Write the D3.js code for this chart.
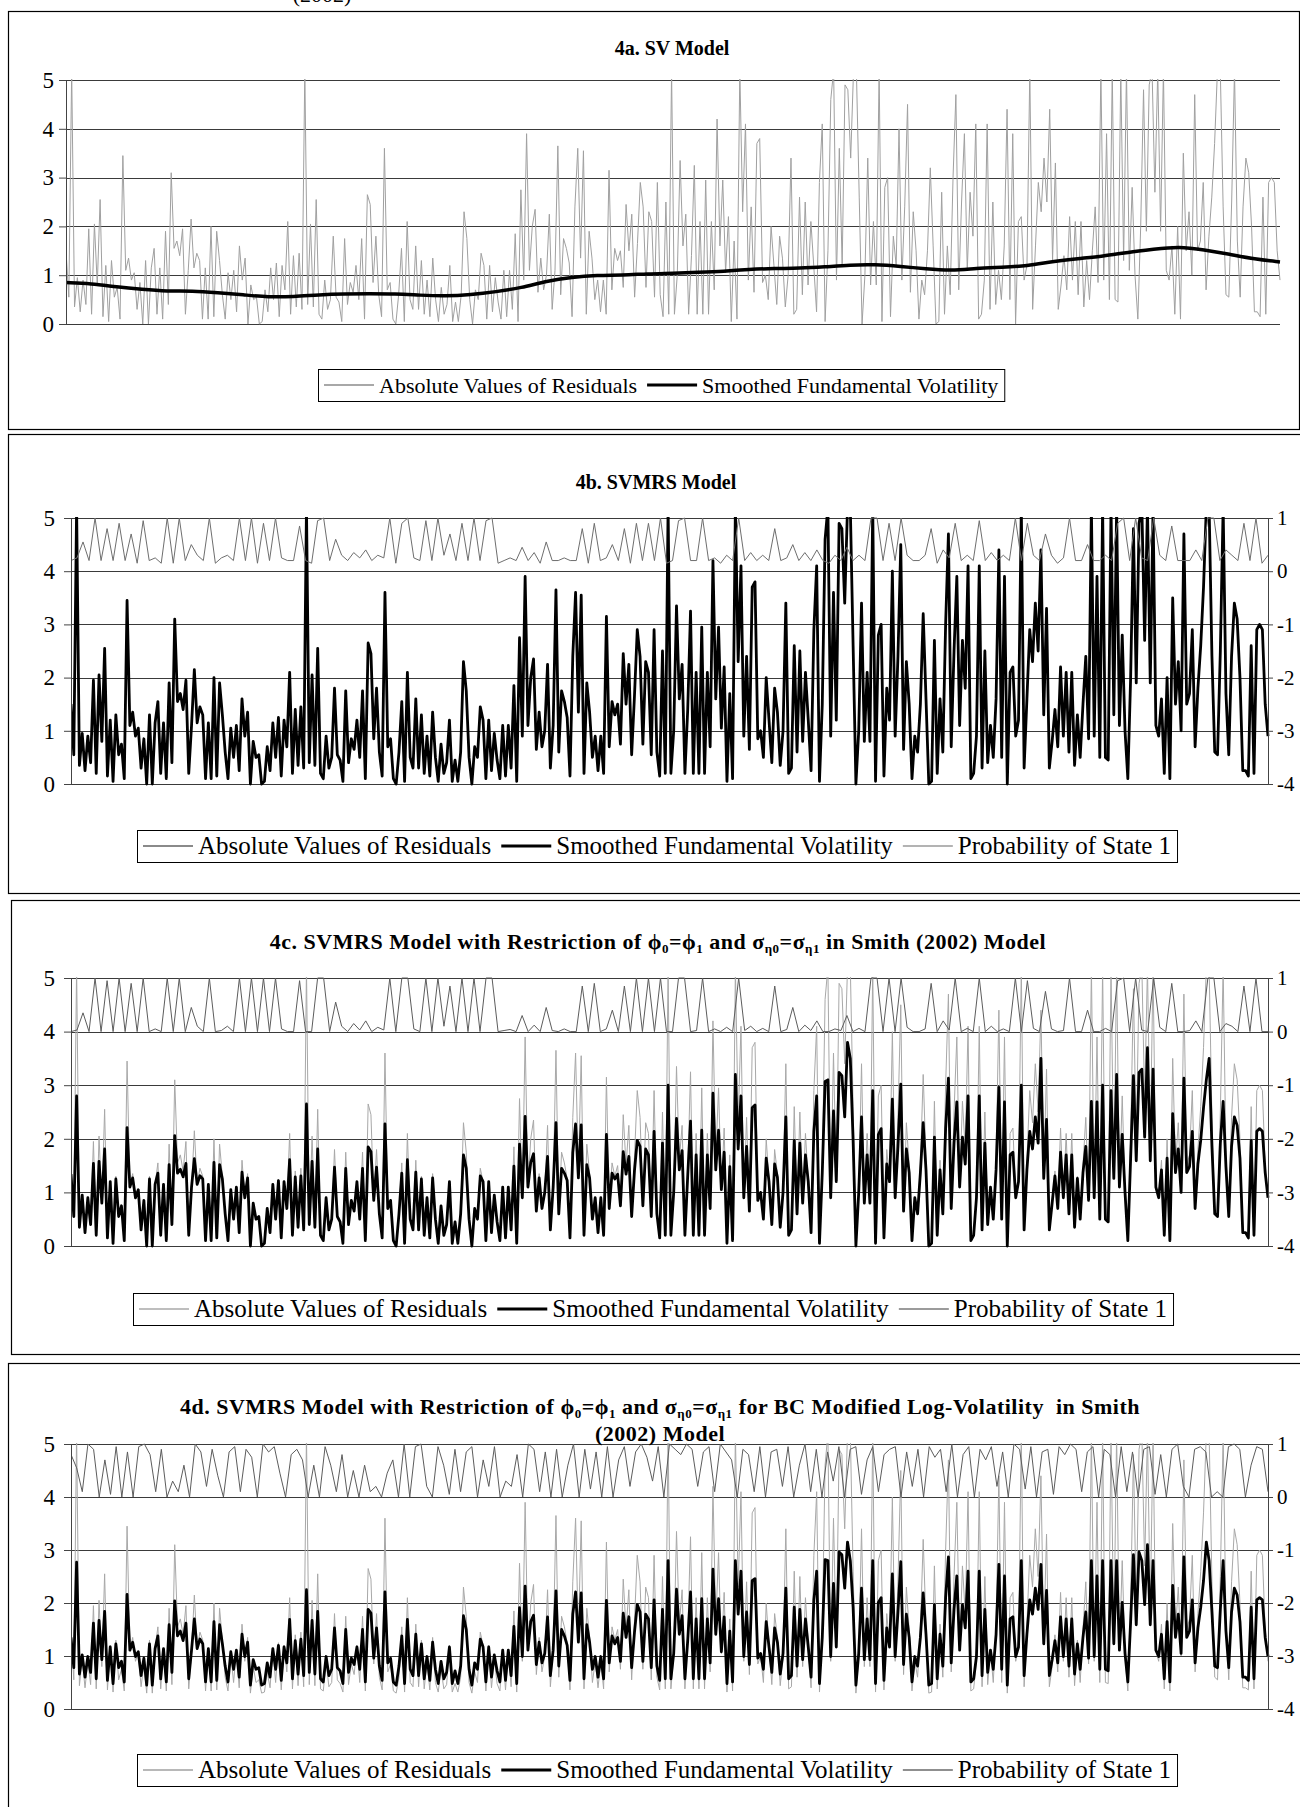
<!DOCTYPE html>
<html>
<head>
<meta charset="utf-8">
<script src="https://cdn.jsdelivr.net/npm/d3@7"></script>
<style>
  body { margin: 0; background: #fff; }
  svg, text { font-family: "Liberation Serif", "Times New Roman", serif; fill: #000; }
</style>
</head>
<body>
<script>
var width = 1300,
    height = 1807,
    serif = "'Liberation Serif', 'Times New Roman', serif";

var residuals = [
  1.5, 0.55, 5.2, 0.35, 0.95, 0.25, 0.9, 0.4, 1.95,
  0.2, 2.05, 0.8, 2.55, 0.15, 1.2, 0.05, 1.3,
  0.55, 0.75, 0.1, 3.45, 1.1, 1.35, 0.9, 1.05, 0.3, 0.85,
  0, 1.3, 0, 1.15, 1.55, 0.2, 1.15, 0.1,
  1.9, 0.4, 3.1, 1.55, 1.7, 1.4, 1.95, 0.2, 1.1,
  2.15, 1.15, 1.45, 1.3, 0.1, 1.15, 0.1, 2.0,
  0.15, 1.9, 1.3, 0.6, 0.1, 1.05, 0.5, 1.1, 0.25,
  1.6, 0.9, 1.35, 0, 0.8, 0.5, 0.55, 0,
  0.05, 0.7, 0.25, 1.15, 0.5, 1.25, 0.15, 1.2,
  0.7, 2.1, 0.2, 1.4, 0.35, 1.45, 0.3,
  5.2, 0.4, 2.05, 0.35, 2.55, 0.2, 0.1, 0.9, 0.3,
  0.5, 1.8, 0.55, 0.45, 0.05, 1.75, 0.4, 0.85,
  0.65, 1.2, 0.5, 1.75, 0.1, 2.65, 2.45, 0.85, 1.8,
  0.6, 0.15, 3.6, 0.7, 0.85, 0.1, 0,
  0.6, 1.55, 0.05, 2.1, 0.5, 0.3, 1.6, 0.3, 1.3, 0.2, 0.9,
  0.15, 1.35, 0.5, 0.05, 0.75, 0.2, 0.4,
  1.2, 0.05, 0.45, 0.05, 0.6, 2.3, 1.75,
  0.5, 0, 0.7, 0.5, 1.45, 1.2, 0.1, 1.2, 0.25, 0.95,
  0.45, 0.1, 1.1, 0.15, 1.1, 0.3, 1.85, 0.05, 2.75,
  0.9, 3.9, 1.1, 2.0, 2.35, 0.65, 1.35, 0.7,
  1.0, 2.25, 0.3, 1.1, 3.65, 0.6, 1.75,
  1.55, 1.25, 0.15, 2.4, 3.6, 1.35, 3.55,
  0.2, 1.9, 1.35, 0.5, 0.9, 0.25, 0.9, 0.2,
  3.15, 0.7, 1.55, 1.3, 1.5, 0.75, 2.45, 1.5, 2.25,
  0.55, 1.65, 2.9,
  2.4, 0.75, 2.3, 2.1, 0.55, 2.9, 0.6, 0.15, 2.5, 0.2,
  5.2, 0.2, 1.0, 3.35, 1.6, 2.25, 0.2, 1.4, 3.25, 0.2,
  2.1, 0.2, 2.95, 0.2, 2.1, 0.7, 4.2, 1.6, 2.95, 1.05,
  2.2, 0.05, 1.7, 0.1, 5.2, 2.3, 4.1, 0.9, 2.4, 0.65,
  3.7, 3.8, 0.85, 1.0, 0.5, 2.0, 1.2, 0.4, 1.8, 1.35,
  0.35, 1.0, 3.4, 0.2, 0.3, 2.6, 0.6, 2.5, 0.8, 2.1,
  1.2, 0.25, 2.9, 4.1, 0.05, 1.5, 4.6, 5.2, 0.9, 3.6,
  1.2, 4.9, 4.8, 3.4, 5.2, 5.2, 2.6, 0, 1.0, 3.4,
  0.8, 2.1, 0.8, 5.2, 0.05, 2.8, 3.0, 0.15, 1.8, 1.2,
  4.0, 0.9, 2.4, 4.5, 0.65, 2.3, 1.5, 0.1, 0.9, 0.6,
  1.5, 3.2, 1.6, 0, 0.05, 2.7, 0.2, 1.6, 0.6, 3.0,
  4.7, 0.7, 2.5, 3.9, 1.1, 2.7, 1.8, 4.1, 0.1, 0.2,
  0.9, 4.1, 0.3, 2.5, 0.4, 1.1, 0.5, 1.6, 4.4, 0.5,
  3.9, 0, 2.1, 2.2, 0.9, 1.2, 5.2, 0.3, 1.6, 2.9,
  2.3, 3.4, 2.5, 4.4, 1.3, 3.3, 0.3, 0.8, 1.4, 0.7,
  2.2, 0.9, 2.1, 0.6, 2.1, 0.35, 1.3, 0.5, 1.5, 2.4,
  0.85, 5.2, 0.9, 3.9, 0.5, 5.2, 0.5, 0.45, 5.2, 1.3,
  5.2, 1.1, 2.8, 1.0, 0.1, 2.0, 4.8, 1.9, 4.9, 5.2,
  2.7, 5.2, 1.9, 5.2, 1.1, 0.9, 1.6, 0.2, 2.0, 0.1,
  3.5, 1.5, 2.3, 1.0, 4.7, 1.5, 1.7, 2.9, 0.7, 1.8,
  2.6, 3.7, 5.2, 5.2, 2.4, 0.6, 0.55, 2.5, 5.2, 1.7,
  0.55, 2.4, 3.4, 3.1, 2.0, 0.25, 0.25, 0.15, 2.6, 0.2,
  2.9, 3.0, 2.9, 1.5, 0.9
];

// 4a smoothed fundamental volatility (slow curve, read every ~25px)
var svSmoothed = [
  0.85, 0.83, 0.76, 0.71, 0.67, 0.68, 0.64, 0.6, 0.55, 0.56,
  0.6, 0.62, 0.62, 0.62, 0.59, 0.57, 0.6, 0.66, 0.74, 0.88,
  0.96, 1.0, 1.0, 1.03, 1.04, 1.06, 1.08, 1.12, 1.14, 1.14,
  1.17, 1.21, 1.22, 1.18, 1.13, 1.09, 1.14, 1.16, 1.19, 1.28,
  1.34, 1.39, 1.47, 1.53, 1.59, 1.52, 1.43, 1.33, 1.27
];

// 4b smoothed volatility: lies on top of the residuals
var svmrsSmoothed = [
  1.5, 0.55, 5.2, 0.35, 0.95, 0.25, 0.9, 0.4, 1.95,
  0.2, 2.05, 0.8, 2.55, 0.15, 1.2, 0.05, 1.3,
  0.55, 0.75, 0.1, 3.45, 1.1, 1.35, 0.9, 1.05, 0.3, 0.85,
  0, 1.3, 0, 1.15, 1.55, 0.2, 1.15, 0.1,
  1.9, 0.4, 3.1, 1.55, 1.7, 1.4, 1.95, 0.2, 1.1,
  2.15, 1.15, 1.45, 1.3, 0.1, 1.15, 0.1, 2.0,
  0.15, 1.9, 1.3, 0.6, 0.1, 1.05, 0.5, 1.1, 0.25,
  1.6, 0.9, 1.35, 0, 0.8, 0.5, 0.55, 0,
  0.05, 0.7, 0.25, 1.15, 0.5, 1.25, 0.15, 1.2,
  0.7, 2.1, 0.2, 1.4, 0.35, 1.45, 0.3,
  5.2, 0.4, 2.05, 0.35, 2.55, 0.2, 0.1, 0.9, 0.3,
  0.5, 1.8, 0.55, 0.45, 0.05, 1.75, 0.4, 0.85,
  0.65, 1.2, 0.5, 1.75, 0.1, 2.65, 2.45, 0.85, 1.8,
  0.6, 0.15, 3.6, 0.7, 0.85, 0.1, 0,
  0.6, 1.55, 0.05, 2.1, 0.5, 0.3, 1.6, 0.3, 1.3, 0.2, 0.9,
  0.15, 1.35, 0.5, 0.05, 0.75, 0.2, 0.4,
  1.2, 0.05, 0.45, 0.05, 0.6, 2.3, 1.75,
  0.5, 0, 0.7, 0.5, 1.45, 1.2, 0.1, 1.2, 0.25, 0.95,
  0.45, 0.1, 1.1, 0.15, 1.1, 0.3, 1.85, 0.05, 2.75,
  0.9, 3.9, 1.1, 2.0, 2.35, 0.65, 1.35, 0.7,
  1.0, 2.25, 0.3, 1.1, 3.65, 0.6, 1.75,
  1.55, 1.25, 0.15, 2.4, 3.6, 1.35, 3.55,
  0.2, 1.9, 1.35, 0.5, 0.9, 0.25, 0.9, 0.2,
  3.15, 0.7, 1.55, 1.3, 1.5, 0.75, 2.45, 1.5, 2.25,
  0.55, 1.65, 2.9,
  2.4, 0.75, 2.3, 2.1, 0.55, 2.9, 0.6, 0.15, 2.5, 0.2,
  5.2, 0.2, 1.0, 3.35, 1.6, 2.25, 0.2, 1.4, 3.25, 0.2,
  2.1, 0.2, 2.95, 0.2, 2.1, 0.7, 4.2, 1.6, 2.95, 1.05,
  2.2, 0.05, 1.7, 0.1, 5.2, 2.3, 4.1, 0.9, 2.4, 0.65,
  3.7, 3.8, 0.85, 1.0, 0.5, 2.0, 1.2, 0.4, 1.8, 1.35,
  0.35, 1.0, 3.4, 0.2, 0.3, 2.6, 0.6, 2.5, 0.8, 2.1,
  1.2, 0.25, 2.9, 4.1, 0.05, 1.5, 4.6, 5.2, 0.9, 3.6,
  1.2, 4.9, 4.8, 3.4, 5.2, 5.2, 2.6, 0, 1.0, 3.4,
  0.8, 2.1, 0.8, 5.2, 0.05, 2.8, 3.0, 0.15, 1.8, 1.2,
  4.0, 0.9, 2.4, 4.5, 0.65, 2.3, 1.5, 0.1, 0.9, 0.6,
  1.5, 3.2, 1.6, 0, 0.05, 2.7, 0.2, 1.6, 0.6, 3.0,
  4.7, 0.7, 2.5, 3.9, 1.1, 2.7, 1.8, 4.1, 0.1, 0.2,
  0.9, 4.1, 0.3, 2.5, 0.4, 1.1, 0.5, 1.6, 4.4, 0.5,
  3.9, 0, 2.1, 2.2, 0.9, 1.2, 5.2, 0.3, 1.6, 2.9,
  2.3, 3.4, 2.5, 4.4, 1.3, 3.3, 0.3, 0.8, 1.4, 0.7,
  2.2, 0.9, 2.1, 0.6, 2.1, 0.35, 1.3, 0.5, 1.5, 2.4,
  0.85, 5.2, 0.9, 3.9, 0.5, 5.2, 0.5, 0.45, 5.2, 1.3,
  5.2, 1.1, 2.8, 1.0, 0.1, 2.0, 4.8, 1.9, 4.9, 5.2,
  2.7, 5.2, 1.9, 5.2, 1.1, 0.9, 1.6, 0.2, 2.0, 0.1,
  3.5, 1.5, 2.3, 1.0, 4.7, 1.5, 1.7, 2.9, 0.7, 1.8,
  2.6, 3.7, 5.2, 5.2, 2.4, 0.6, 0.55, 2.5, 5.2, 1.7,
  0.55, 2.4, 3.4, 3.1, 2.0, 0.25, 0.25, 0.15, 2.6, 0.2,
  2.9, 3.0, 2.9, 1.5, 0.9
];

// 4c smoothed volatility (restricted model)
var restrictedSmoothed = [
  1.34, 0.55, 2.8, 0.35, 0.95, 0.25, 0.9, 0.4, 1.54,
  0.2, 1.58, 0.8, 1.81, 0.15, 1.2, 0.05, 1.25,
  0.55, 0.75, 0.1, 2.21, 1.1, 1.27, 0.9, 1.05, 0.3, 0.85,
  0, 1.25, 0, 1.15, 1.36, 0.2, 1.15, 0.1,
  1.52, 0.4, 2.06, 1.36, 1.43, 1.29, 1.54, 0.2, 1.1,
  1.63, 1.15, 1.31, 1.25, 0.1, 1.15, 0.1, 1.56,
  0.15, 1.52, 1.25, 0.6, 0.1, 1.05, 0.5, 1.1, 0.25,
  1.38, 0.9, 1.27, 0, 0.8, 0.5, 0.55, 0,
  0.05, 0.7, 0.25, 1.15, 0.5, 1.22, 0.15, 1.2,
  0.7, 1.61, 0.2, 1.29, 0.35, 1.31, 0.3,
  2.65, 0.4, 1.58, 0.35, 1.81, 0.2, 0.1, 0.9, 0.3,
  0.5, 1.47, 0.55, 0.45, 0.05, 1.45, 0.4, 0.85,
  0.65, 1.2, 0.5, 1.45, 0.1, 1.85, 1.76, 0.85, 1.47,
  0.6, 0.15, 2.28, 0.7, 0.85, 0.1, 0,
  0.6, 1.36, 0.05, 1.61, 0.5, 0.3, 1.38, 0.3, 1.25, 0.2, 0.9,
  0.15, 1.27, 0.5, 0.05, 0.75, 0.2, 0.4,
  1.2, 0.05, 0.45, 0.05, 0.6, 1.7, 1.45,
  0.5, 0, 0.7, 0.5, 1.31, 1.2, 0.1, 1.2, 0.25, 0.95,
  0.45, 0.1, 1.1, 0.15, 1.1, 0.3, 1.49, 0.05, 1.9,
  0.9, 2.42, 1.1, 1.56, 1.72, 0.65, 1.27, 0.7,
  1.0, 1.67, 0.3, 1.1, 2.3, 0.6, 1.45,
  1.36, 1.22, 0.15, 1.74, 2.28, 1.27, 2.26,
  0.2, 1.52, 1.27, 0.5, 0.9, 0.25, 0.9, 0.2,
  2.08, 0.7, 1.36, 1.25, 1.34, 0.75, 1.76, 1.34, 1.67,
  0.55, 1.4, 1.97,
  1.86, 0.75, 1.81, 1.7, 0.55, 2.14, 0.6, 0.15, 1.92, 0.2,
  3.0, 0.2, 1.0, 2.38, 1.42, 1.78, 0.2, 1.31, 2.33, 0.2,
  1.7, 0.2, 2.16, 0.2, 1.7, 0.7, 2.85, 1.42, 2.16, 1.05,
  1.75, 0.05, 1.48, 0.1, 3.2, 1.81, 2.8, 0.9, 1.86, 0.65,
  2.58, 2.63, 0.85, 1.0, 0.5, 1.64, 1.2, 0.4, 1.53, 1.28,
  0.35, 1.0, 2.41, 0.2, 0.3, 1.97, 0.6, 1.92, 0.8, 1.7,
  1.2, 0.25, 2.14, 2.8, 0.05, 1.37, 3.07, 3.1, 0.9, 2.52,
  1.2, 3.24, 3.18, 2.41, 3.8, 3.5, 1.97, 0, 1.0, 2.41,
  0.8, 1.7, 0.8, 2.9, 0.05, 2.08, 2.19, 0.15, 1.53, 1.2,
  2.74, 0.9, 1.86, 3.02, 0.65, 1.81, 1.37, 0.1, 0.9, 0.6,
  1.37, 2.3, 1.42, 0, 0.05, 2.03, 0.2, 1.42, 0.6, 2.19,
  3.13, 0.7, 1.92, 2.69, 1.1, 2.03, 1.53, 2.8, 0.1, 0.2,
  0.9, 2.8, 0.3, 1.92, 0.4, 1.1, 0.5, 1.42, 2.96, 0.5,
  2.69, 0, 1.7, 1.75, 0.9, 1.2, 3.0, 0.3, 1.42, 2.14,
  1.81, 2.41, 1.92, 3.5, 1.26, 2.36, 0.3, 0.8, 1.31, 0.7,
  1.75, 0.9, 1.7, 0.6, 1.7, 0.35, 1.26, 0.5, 1.37, 1.86,
  0.85, 2.7, 0.9, 2.69, 0.5, 3.0, 0.5, 0.45, 2.9, 1.26,
  3.2, 1.1, 2.08, 1.0, 0.1, 1.64, 3.18, 1.59, 3.24, 3.3,
  2.03, 3.7, 1.59, 3.3, 1.1, 0.9, 1.42, 0.2, 1.64, 0.1,
  2.47, 1.37, 1.81, 1.0, 3.13, 1.37, 1.48, 2.14, 0.7, 1.53,
  1.97, 2.58, 3.1, 3.5, 1.86, 0.6, 0.55, 1.92, 2.7, 1.48,
  0.55, 1.86, 2.41, 2.25, 1.64, 0.25, 0.25, 0.15, 1.97, 0.2,
  2.14, 2.19, 2.14, 1.37, 0.9
];

// 4d residuals (BC modified: lows lifted to ~0.3)
var bcResiduals = [
  1.5, 0.55, 5.2, 0.44, 0.95, 0.4, 0.9, 0.46, 1.95,
  0.38, 2.05, 0.8, 2.55, 0.36, 1.2, 0.32, 1.3,
  0.55, 0.75, 0.34, 3.45, 1.1, 1.35, 0.9, 1.05, 0.42, 0.85,
  0.3, 1.3, 0.3, 1.15, 1.55, 0.38, 1.15, 0.34,
  1.9, 0.46, 3.1, 1.55, 1.7, 1.4, 1.95, 0.38, 1.1,
  2.15, 1.15, 1.45, 1.3, 0.34, 1.15, 0.34, 2.0,
  0.36, 1.9, 1.3, 0.6, 0.34, 1.05, 0.5, 1.1, 0.4,
  1.6, 0.9, 1.35, 0.3, 0.8, 0.5, 0.55, 0.3,
  0.32, 0.7, 0.4, 1.15, 0.5, 1.25, 0.36, 1.2,
  0.7, 2.1, 0.38, 1.4, 0.44, 1.45, 0.42,
  5.2, 0.46, 2.05, 0.44, 2.55, 0.38, 0.34, 0.9, 0.42,
  0.5, 1.8, 0.55, 0.48, 0.32, 1.75, 0.46, 0.85,
  0.65, 1.2, 0.5, 1.75, 0.34, 2.65, 2.45, 0.85, 1.8,
  0.6, 0.36, 3.6, 0.7, 0.85, 0.34, 0.3,
  0.6, 1.55, 0.32, 2.1, 0.5, 0.42, 1.6, 0.42, 1.3, 0.38, 0.9,
  0.36, 1.35, 0.5, 0.32, 0.75, 0.38, 0.46,
  1.2, 0.32, 0.48, 0.32, 0.6, 2.3, 1.75,
  0.5, 0.3, 0.7, 0.5, 1.45, 1.2, 0.34, 1.2, 0.4, 0.95,
  0.48, 0.34, 1.1, 0.36, 1.1, 0.42, 1.85, 0.32, 2.75,
  0.9, 3.9, 1.1, 2.0, 2.35, 0.65, 1.35, 0.7,
  1.0, 2.25, 0.42, 1.1, 3.65, 0.6, 1.75,
  1.55, 1.25, 0.36, 2.4, 3.6, 1.35, 3.55,
  0.38, 1.9, 1.35, 0.5, 0.9, 0.4, 0.9, 0.38,
  3.15, 0.7, 1.55, 1.3, 1.5, 0.75, 2.45, 1.5, 2.25,
  0.55, 1.65, 2.9,
  2.4, 0.75, 2.3, 2.1, 0.55, 2.9, 0.6, 0.36, 2.5, 0.38,
  5.2, 0.38, 1.0, 3.35, 1.6, 2.25, 0.38, 1.4, 3.25, 0.38,
  2.1, 0.38, 2.95, 0.38, 2.1, 0.7, 4.2, 1.6, 2.95, 1.05,
  2.2, 0.32, 1.7, 0.34, 5.2, 2.3, 4.1, 0.9, 2.4, 0.65,
  3.7, 3.8, 0.85, 1.0, 0.5, 2.0, 1.2, 0.46, 1.8, 1.35,
  0.44, 1.0, 3.4, 0.38, 0.42, 2.6, 0.6, 2.5, 0.8, 2.1,
  1.2, 0.4, 2.9, 4.1, 0.32, 1.5, 4.6, 5.2, 0.9, 3.6,
  1.2, 4.9, 4.8, 3.4, 5.2, 5.2, 2.6, 0.3, 1.0, 3.4,
  0.8, 2.1, 0.8, 5.2, 0.32, 2.8, 3.0, 0.36, 1.8, 1.2,
  4.0, 0.9, 2.4, 4.5, 0.65, 2.3, 1.5, 0.34, 0.9, 0.6,
  1.5, 3.2, 1.6, 0.3, 0.32, 2.7, 0.38, 1.6, 0.6, 3.0,
  4.7, 0.7, 2.5, 3.9, 1.1, 2.7, 1.8, 4.1, 0.34, 0.38,
  0.9, 4.1, 0.42, 2.5, 0.46, 1.1, 0.5, 1.6, 4.4, 0.5,
  3.9, 0.3, 2.1, 2.2, 0.9, 1.2, 5.2, 0.42, 1.6, 2.9,
  2.3, 3.4, 2.5, 4.4, 1.3, 3.3, 0.42, 0.8, 1.4, 0.7,
  2.2, 0.9, 2.1, 0.6, 2.1, 0.44, 1.3, 0.5, 1.5, 2.4,
  0.85, 5.2, 0.9, 3.9, 0.5, 5.2, 0.5, 0.48, 5.2, 1.3,
  5.2, 1.1, 2.8, 1.0, 0.34, 2.0, 4.8, 1.9, 4.9, 5.2,
  2.7, 5.2, 1.9, 5.2, 1.1, 0.9, 1.6, 0.38, 2.0, 0.34,
  3.5, 1.5, 2.3, 1.0, 4.7, 1.5, 1.7, 2.9, 0.7, 1.8,
  2.6, 3.7, 5.2, 5.2, 2.4, 0.6, 0.55, 2.5, 5.2, 1.7,
  0.55, 2.4, 3.4, 3.1, 2.0, 0.4, 0.4, 0.36, 2.6, 0.38,
  2.9, 3.0, 2.9, 1.5, 0.9
];

// 4d smoothed volatility (BC modified log-volatility)
var bcSmoothed = [
  1.35, 0.78, 2.77, 0.66, 1.02, 0.6, 0.99, 0.69, 1.62,
  0.57, 1.67, 0.93, 1.84, 0.54, 1.17, 0.48, 1.23,
  0.78, 0.9, 0.51, 2.16, 1.11, 1.26, 0.99, 1.08, 0.63, 0.96,
  0.45, 1.23, 0.45, 1.14, 1.38, 0.57, 1.14, 0.51,
  1.59, 0.69, 2.04, 1.38, 1.47, 1.29, 1.62, 0.57, 1.11,
  1.7, 1.14, 1.32, 1.23, 0.51, 1.14, 0.51, 1.65,
  0.54, 1.59, 1.23, 0.81, 0.51, 1.08, 0.75, 1.11, 0.6,
  1.41, 0.99, 1.26, 0.45, 0.93, 0.75, 0.78, 0.45,
  0.48, 0.87, 0.6, 1.14, 0.75, 1.2, 0.54, 1.17,
  0.87, 1.69, 0.57, 1.29, 0.66, 1.32, 0.63,
  2.25, 0.69, 1.67, 0.66, 1.84, 0.57, 0.51, 0.99, 0.63,
  0.75, 1.53, 0.78, 0.72, 0.48, 1.5, 0.69, 0.96,
  0.84, 1.17, 0.75, 1.5, 0.51, 1.88, 1.81, 0.96, 1.53,
  0.81, 0.54, 2.21, 0.87, 0.96, 0.51, 0.45,
  0.81, 1.38, 0.48, 1.69, 0.75, 0.63, 1.41, 0.63, 1.23, 0.57, 0.99,
  0.54, 1.26, 0.75, 0.48, 0.9, 0.57, 0.69,
  1.17, 0.48, 0.72, 0.48, 0.81, 1.76, 1.5,
  0.75, 0.45, 0.87, 0.75, 1.32, 1.17, 0.51, 1.17, 0.6, 1.02,
  0.72, 0.51, 1.11, 0.54, 1.11, 0.63, 1.56, 0.48, 1.91,
  0.99, 2.32, 1.11, 1.65, 1.77, 0.84, 1.26, 0.87,
  1.05, 1.74, 0.63, 1.11, 2.23, 0.81, 1.5,
  1.38, 1.2, 0.54, 1.79, 2.21, 1.26, 2.19,
  0.57, 1.59, 1.26, 0.75, 0.99, 0.6, 0.99, 0.57,
  2.05, 0.87, 1.38, 1.23, 1.35, 0.9, 1.81, 1.35, 1.74,
  0.78, 1.44, 1.97,
  1.83, 0.9, 1.79, 1.7, 0.78, 2.06, 0.81, 0.54, 1.88, 0.57,
  2.8, 0.57, 1.05, 2.26, 1.41, 1.76, 0.57, 1.29, 2.21, 0.57,
  1.7, 0.57, 2.08, 0.57, 1.7, 0.87, 2.64, 1.41, 2.08, 1.08,
  1.74, 0.48, 1.47, 0.51, 2.8, 1.79, 2.6, 0.99, 1.83, 0.84,
  2.42, 2.46, 0.96, 1.05, 0.75, 1.65, 1.17, 0.69, 1.53, 1.26,
  0.66, 1.05, 2.28, 0.57, 0.63, 1.92, 0.81, 1.88, 0.93, 1.7,
  1.17, 0.6, 2.06, 2.6, 0.48, 1.35, 2.82, 2.8, 0.99, 2.37,
  1.17, 2.96, 2.91, 2.28, 3.15, 2.8, 1.92, 0.45, 1.05, 2.28,
  0.93, 1.7, 0.93, 2.8, 0.48, 2.01, 2.1, 0.54, 1.53, 1.17,
  2.55, 0.99, 1.83, 2.78, 0.84, 1.79, 1.35, 0.51, 0.99, 0.81,
  1.35, 2.19, 1.41, 0.45, 0.48, 1.97, 0.57, 1.41, 0.81, 2.1,
  2.87, 0.87, 1.88, 2.51, 1.11, 1.97, 1.53, 2.6, 0.51, 0.57,
  0.99, 2.6, 0.63, 1.88, 0.69, 1.11, 0.75, 1.41, 2.73, 0.75,
  2.51, 0.45, 1.7, 1.74, 0.99, 1.17, 2.8, 0.63, 1.41, 2.06,
  1.79, 2.28, 1.88, 2.73, 1.23, 2.24, 0.63, 0.93, 1.29, 0.87,
  1.74, 0.99, 1.7, 0.81, 1.7, 0.66, 1.23, 0.75, 1.35, 1.83,
  0.96, 2.8, 0.99, 2.51, 0.75, 2.8, 0.75, 0.72, 2.8, 1.23,
  2.8, 1.11, 2.01, 1.05, 0.51, 1.65, 2.91, 1.59, 2.96, 2.8,
  1.97, 3.1, 1.59, 2.8, 1.11, 0.99, 1.41, 0.57, 1.65, 0.51,
  2.33, 1.35, 1.79, 1.05, 2.87, 1.35, 1.47, 2.06, 0.87, 1.53,
  1.92, 2.42, 3.15, 2.8, 1.83, 0.81, 0.78, 1.88, 2.8, 1.47,
  0.78, 1.83, 2.28, 2.15, 1.65, 0.6, 0.6, 0.54, 1.92, 0.57,
  2.06, 2.1, 2.06, 1.35, 0.99
];

// probability of state 1 (right axis)
var probSvmrs = [
  0.2, 0.25, 0.55, 0.2, 1.0, 0.2, 0.8, 0.2, 0.9, 0.2,
  0.7, 0.15, 0.95, 0.2, 0.25, 0.15, 1.0, 0.15, 1.0, 0.2,
  0.5, 0.3, 0.2, 1.0, 0.15, 0.25, 0.3, 0.2, 1.0, 0.2,
  1.0, 0.15, 0.9, 0.2, 1.0, 0.25, 0.2, 0.2, 0.85, 0.2,
  0.15, 0.95, 1.0, 0.2, 0.6, 0.3, 0.2, 0.35, 0.25, 0.4,
  0.2, 0.3, 0.25, 1.0, 0.15, 0.9, 1.0, 0.25, 0.2, 0.95,
  0.2, 1.0, 0.3, 0.7, 0.2, 0.9, 0.2, 1.0, 0.2, 0.95,
  1.0, 0.15, 0.2, 0.25, 0.2, 0.45, 0.2, 0.35, 0.15, 0.55,
  0.2, 0.2, 0.25, 0.2, 0.2, 0.8, 0.15, 0.9, 0.2, 0.25,
  0.5, 0.2, 0.8, 0.15, 0.9,
  0.2, 0.9, 0.2, 1.0, 0.15, 0.2, 0.95, 1.0, 0.2, 0.2,
  1.0, 0.2, 0.25, 0.15, 0.3, 0.2, 1.0, 0.2, 0.35, 0.2,
  0.3, 0.2, 0.8, 0.2, 0.25, 0.5, 0.2, 0.35, 0.2, 0.4,
  0.2, 0.15, 0.3, 0.2, 0.45, 0.2, 0.3, 0.2, 1.0, 1.0,
  0.2, 0.9, 0.2, 1.0, 0.3, 0.2, 0.2, 0.3, 0.8, 0.15,
  0.4, 0.25, 0.9, 0.2, 0.3, 0.2, 0.95, 0.2, 0.35, 0.2,
  0.3, 0.2, 1.0, 0.2, 0.9, 0.3, 0.2, 0.7, 0.3, 0.15,
  0.25, 1.0, 0.2, 0.2, 0.5, 0.2, 0.2, 0.3, 0.2, 0.9,
  1.0, 0.2, 1.0, 0.25, 0.2, 1.0, 0.3, 0.2, 0.85, 0.2,
  0.2, 0.2, 0.4, 0.2, 1.0, 1.0, 0.2, 0.4, 0.3, 0.2,
  0.9, 0.2, 1.0, 0.15, 0.3
];

var probRestricted = [
  0, 0.03, 0.35, 0, 1.0, 0, 0.95, 0, 1.0, 0,
  0.9, 0, 1.0, 0, 0.05, 0, 1.0, 0, 1.0, 0,
  0.45, 0.1, 0, 1.0, 0, 0.02, 0.1, 0, 1.0, 0,
  1.0, 0, 1.0, 0, 1.0, 0.05, 0, 0, 0.95, 0,
  0, 1.0, 1.0, 0, 0.55, 0.1, 0, 0.15, 0.03, 0.2,
  0, 0.08, 0.03, 1.0, 0, 1.0, 1.0, 0.05, 0, 1.0,
  0, 1.0, 0.1, 0.85, 0, 1.0, 0, 1.0, 0, 1.0,
  1.0, 0, 0.02, 0.04, 0, 0.3, 0, 0.12, 0, 0.45,
  0.02, 0, 0.05, 0, 0, 0.85, 0, 0.9, 0, 0.05,
  0.4, 0, 0.85, 0, 1.0,
  0, 1.0, 0, 1.0, 0, 0, 1.0, 1.0, 0, 0.02,
  1.0, 0, 0.05, 0, 0.08, 0, 1.0, 0.02, 0.1, 0,
  0.06, 0, 0.85, 0, 0.04, 0.45, 0, 0.12, 0.02, 0.2,
  0, 0, 0.05, 0.02, 0.3, 0, 0.06, 0, 1.0, 1.0,
  0, 1.0, 0, 1.0, 0.08, 0, 0, 0.05, 0.9, 0,
  0.2, 0.03, 1.0, 0, 0.06, 0, 1.0, 0, 0.1, 0,
  0.05, 0, 1.0, 0, 0.95, 0.06, 0, 0.75, 0.05, 0,
  0.02, 1.0, 0, 0, 0.4, 0, 0, 0.06, 0, 0.95,
  1.0, 0, 1.0, 0.03, 0, 1.0, 0.08, 0, 0.9, 0,
  0, 0.02, 0.2, 0, 1.0, 1.0, 0, 0.15, 0.1, 0,
  0.85, 0, 1.0, 0, 0
];

var probBc = [
  0.8, 0.55, 0.1, 1.0, 0.9, 0, 0.7, 0.05, 0.95, 0,
  0.85, 0, 0.95, 1.0, 0.8, 0.1, 0.9, 0, 0.3, 0.1,
  0.6, 0, 1.0, 0.85, 0.2, 0.9, 0.4, 0, 0.85, 0.95,
  0.1, 0.9, 0.75, 0, 1.0, 0.85, 0.95, 0.45, 0, 0.8,
  0.9, 0.7, 0, 0.6, 0, 0.95, 0.6, 0.1, 0.8, 0,
  0.5, 0, 0.6, 0.1, 0.2, 0, 0.45, 0.7, 0, 1.0,
  0, 0.95, 1.0, 0.2, 0, 0.95, 0.6, 0.05, 0.9, 0.1,
  0.85, 0.95, 0, 0.7, 0.2, 0.95, 0, 0.3, 0.2, 0.8,
  0, 1.0, 0.9, 0.1, 0.85, 0, 0.9, 0, 0.6, 1.0,
  0, 0.9, 0.15, 0.85, 0, 0.95, 0, 0.7, 0.95, 0.2,
  0.85, 1.0, 0.75, 0.3, 0.95, 0, 1.0, 0.9, 0.8, 1.0,
  0.9, 0.2, 0.85, 0.95, 0.1, 1.0, 0.85, 0.7, 0, 0.9,
  0.8, 0.1, 0.95, 0, 0.85, 0.9, 0.2, 0.95, 0, 0.6,
  1.0, 0.1, 0.9, 0, 0.85, 0.3, 0.95, 0, 0.9, 0.95,
  0.05, 0.7, 0.95, 0.1, 0.8, 0.9, 0.95, 0, 0.85, 0.2,
  0.9, 0, 0.95, 0.75, 0.9, 0.1, 1.0, 0, 0.8, 0.95,
  0, 0.9, 0.7, 0.95, 0.2, 0.85, 0, 1.0, 0.9, 0.15,
  0.95, 0, 0.85, 0.9, 0.05, 0.95, 0.8, 1.0, 0.9, 0.1,
  0.85, 0.95, 0, 0.9, 0.8, 0, 0.95, 0.1, 0.85, 0,
  0.9, 0.95, 0.05, 0.8, 0, 0.9, 1.0, 0.2, 0, 0.9,
  0.95, 0.85, 0, 0.1, 0, 0.95, 1.0, 0.9, 0, 0.6,
  0.95, 0.9, 0.1
];

var leftTicks = [0, 1, 2, 3, 4, 5],
    rightTicks = [-4, -3, -2, -1, 0, 1];

var legResid = "Absolute Values of Residuals",
    legSmooth = "Smoothed Fundamental Volatility",
    legProb = "Probability of State 1";

var phiTitle = [" with Restriction of ϕ", {sub: "0"}, "=ϕ", {sub: "1"}, " and σ", {sub: "η0"}, "=σ", {sub: "η1"}];

var panels = [
  { box: [8, 11, 1291, 418], x0: 66, x1: 1280, yTop: 80, yBot: 324, right: false,
    titles: [[["4a. SV Model"], 672, 55]], titleSize: 20, titleSpacing: 0,
    legendX: 661, legendY: 369, legendSize: 22,
    series: [
      { data: residuals, color: "#a0a0a0", w: 1, name: legResid, lc: "#a8a8a8", lw: 2 },
      { data: svSmoothed, color: "#000", w: 3.5, smooth: true, name: legSmooth, lc: "#000", lw: 3 }
    ] },
  { box: [8, 434, 1310, 459], x0: 71, x1: 1268, yTop: 518, yBot: 784, right: true,
    titles: [[["4b. SVMRS Model"], 656, 489]], titleSize: 20, titleSpacing: 0,
    legendX: 657, legendY: 830, legendSize: 25,
    series: [
      { data: residuals, color: "#8a8a8a", w: 1, name: legResid, lc: "#8a8a8a", lw: 2 },
      { data: svmrsSmoothed, color: "#000", w: 2.8, name: legSmooth, lc: "#000", lw: 3 },
      { data: probSvmrs, axis: "right", color: "#6e6e6e", w: 1, name: legProb, lc: "#9a9a9a", lw: 1.5 }
    ] },
  { box: [11, 900, 1310, 454], x0: 71, x1: 1268, yTop: 978, yBot: 1246, right: true,
    titles: [[["4c. SVMRS Model"].concat(phiTitle, [" in Smith (2002) Model"]), 658, 949]],
    titleSize: 22, titleSpacing: 0.5,
    legendX: 653, legendY: 1293, legendSize: 25,
    series: [
      { data: residuals, color: "#a8a8a8", w: 1, name: legResid, lc: "#a8a8a8", lw: 1.5 },
      { data: restrictedSmoothed, color: "#000", w: 2.8, name: legSmooth, lc: "#000", lw: 3 },
      { data: probRestricted, axis: "right", color: "#5c5c5c", w: 1, name: legProb, lc: "#7a7a7a", lw: 1.5 }
    ] },
  { box: [8, 1363, 1310, 470], x0: 71, x1: 1268, yTop: 1444, yBot: 1709, right: true,
    titles: [[["4d. SVMRS Model"].concat(phiTitle, [" for BC Modified Log-Volatility  in Smith"]), 660, 1414],
             [["(2002) Model"], 660, 1441]],
    titleSize: 22, titleSpacing: 0.5,
    legendX: 657, legendY: 1754, legendSize: 25,
    series: [
      { data: bcResiduals, color: "#a8a8a8", w: 1, name: legResid, lc: "#a0a0a0", lw: 1.5 },
      { data: bcSmoothed, color: "#000", w: 2.8, name: legSmooth, lc: "#000", lw: 3 },
      { data: probBc, axis: "right", color: "#5c5c5c", w: 1, name: legProb, lc: "#6a6a6a", lw: 1.5 }
    ] }
];

var svg = d3.select("body")
  .append("svg")
  .attr("width", width)
  .attr("height", height)
  .attr("font-family", serif);

// bottom of a caption line that is cut off above the page
svg.append("text")
  .attr("x", 322).attr("y", 2)
  .attr("text-anchor", "middle")
  .attr("font-family", serif)
  .attr("font-size", 22)
  .text("(2002)");

function styleAxis(size) {
  return function(sel) {
    sel.attr("font-family", serif).attr("font-size", null);
    sel.select(".domain").attr("stroke", "#444");
    sel.selectAll(".tick line").attr("stroke", "#444");
    sel.selectAll(".tick text")
      .attr("font-family", serif)
      .attr("font-size", size)
      .attr("fill", "#000");
  };
}

function drawTitle(g, segs, cx, y, size, spacing) {
  var t = g.append("text")
    .attr("x", cx).attr("y", y)
    .attr("text-anchor", "middle")
    .attr("font-family", serif)
    .attr("font-weight", "bold")
    .attr("font-size", size)
    .attr("letter-spacing", spacing)
    .style("white-space", "pre");
  var low = false;
  segs.forEach(function(s) {
    if (typeof s === "string") {
      var ts = t.append("tspan").text(s);
      if (low) { ts.attr("dy", -4); low = false; }
    } else {
      var sub = t.append("tspan").text(s.sub).attr("font-size", Math.round(size * 0.6));
      if (!low) { sub.attr("dy", 4); low = true; }
    }
  });
}

function drawLegend(g, items, cx, top, size) {
  var lg = g.append("g");
  var x = 6;
  items.forEach(function(it) {
    lg.append("line")
      .attr("x1", x).attr("x2", x + 50)
      .attr("y1", 16).attr("y2", 16)
      .attr("stroke", it.lc)
      .attr("stroke-width", it.lw);
    var t = lg.append("text")
      .attr("x", x + 55).attr("y", 24)
      .attr("font-family", serif)
      .attr("font-size", size)
      .text(it.name);
    x += 55 + t.node().getComputedTextLength() + 10;
  });
  var w = x - 10 + 6;
  lg.insert("rect", ":first-child")
    .attr("x", 0.5).attr("y", 0.5)
    .attr("width", w).attr("height", 32)
    .attr("fill", "#fff")
    .attr("stroke", "#000");
  lg.attr("transform", "translate(" + Math.round(cx - w / 2) + "," + top + ")");
}

panels.forEach(function(p, pi) {
  var g = svg.append("g");

  g.append("rect")
    .attr("x", p.box[0] + 0.5).attr("y", p.box[1] + 0.5)
    .attr("width", p.box[2]).attr("height", p.box[3])
    .attr("fill", "none")
    .attr("stroke", "#000")
    .attr("stroke-width", 1.2);

  var y = d3.scaleLinear().domain([0, 5]).range([p.yBot, p.yTop]);
  var yR = d3.scaleLinear().domain([-4, 1]).range([p.yBot, p.yTop]);

  // gridlines
  g.append("g")
    .selectAll("line")
    .data(leftTicks)
    .enter().append("line")
      .attr("x1", p.x0).attr("x2", p.x1)
      .attr("y1", function(d) { return Math.round(y(d)) + 0.5; })
      .attr("y2", function(d) { return Math.round(y(d)) + 0.5; })
      .attr("stroke", "#3a3a3a");

  var clipId = "clip" + pi;
  g.append("clipPath").attr("id", clipId)
    .append("rect")
      .attr("x", p.x0).attr("y", p.yTop - 1)
      .attr("width", p.x1 - p.x0 + 2)
      .attr("height", p.yBot - p.yTop + 3);

  var plot = g.append("g").attr("clip-path", "url(#" + clipId + ")");

  p.series.forEach(function(s) {
    var x = d3.scaleLinear().domain([0, s.data.length - 1]).range([p.x0, p.x1]);
    var ys = s.axis === "right" ? yR : y;
    var line = d3.line()
      .x(function(d, i) { return x(i); })
      .y(function(d) { return ys(d); })
      .curve(s.smooth ? d3.curveBasis : d3.curveLinear);
    plot.append("path")
      .datum(s.data)
      .attr("fill", "none")
      .attr("stroke", s.color)
      .attr("stroke-width", s.w)
      .attr("stroke-linejoin", "round")
      .attr("d", line);
  });

  g.append("g")
    .attr("transform", "translate(" + p.x0 + ",0)")
    .call(d3.axisLeft(y).tickValues(leftTicks).tickSize(7).tickSizeOuter(0)
      .tickPadding(p.right ? 9 : 5).tickFormat(String))
    .call(styleAxis(23));

  if (p.right) {
    g.append("g")
      .attr("transform", "translate(" + p.x1 + ",0)")
      .call(d3.axisRight(yR).tickValues(rightTicks).tickSize(5).tickSizeOuter(0)
        .tickPadding(4).tickFormat(String))
      .call(styleAxis(21));
  }

  p.titles.forEach(function(t) { drawTitle(g, t[0], t[1], t[2], p.titleSize, p.titleSpacing); });

  drawLegend(g, p.series, p.legendX, p.legendY, p.legendSize);
});
</script>
</body>
</html>
